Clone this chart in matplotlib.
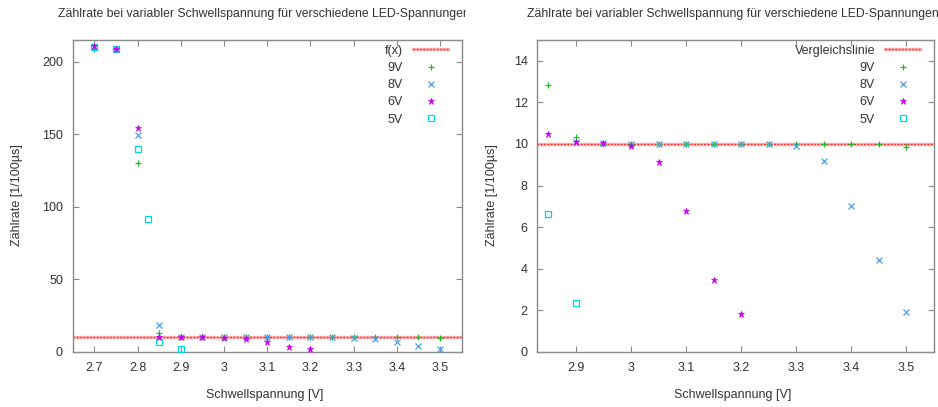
import matplotlib
matplotlib.use("Agg")
import matplotlib.pyplot as plt
from matplotlib.transforms import Bbox
from matplotlib.legend_handler import HandlerTuple

plt.rcParams['font.family'] = ['Liberation Sans', 'DejaVu Sans']

TITLE = 'Zählrate bei variabler Schwellspannung für verschiedene LED-Spannungen'
XLABEL = 'Schwellspannung [V]'
YLABEL = 'Zählrate [1/100µs]'

# measured count rates per LED voltage
v9_x = [2.7, 2.75, 2.8, 2.85, 2.9, 2.95, 3.0, 3.05, 3.1, 3.15, 3.2, 3.25, 3.3, 3.35, 3.4, 3.45, 3.5]
v9_y = [209, 209, 130, 12.85, 10.35, 10.0, 10.0, 10.0, 10.0, 10.0, 10.0, 10.0, 10.0, 10.0, 10.0, 10.0, 9.85]

v8_x = [2.7, 2.75, 2.8, 2.85, 2.9, 2.95, 3.0, 3.05, 3.1, 3.15, 3.2, 3.25, 3.3, 3.35, 3.4, 3.45, 3.5]
v8_y = [210, 209, 149.5, 18.4, 10.1, 10.05, 10.0, 10.0, 10.0, 10.0, 10.0, 10.0, 9.9, 9.2, 7.0, 4.4, 1.9]

v6_x = [2.7, 2.75, 2.8, 2.85, 2.9, 2.95, 3.0, 3.05, 3.1, 3.15, 3.2]
v6_y = [211, 209, 154.5, 10.5, 10.1, 10.05, 9.9, 9.15, 6.8, 3.45, 1.85]

v5_x = [2.7, 2.75, 2.8, 2.825, 2.85, 2.9]
v5_y = [210, 209, 140, 91.5, 6.65, 2.35]

ref_level = 10

left_xticks = [2.7, 2.8, 2.9, 3.0, 3.1, 3.2, 3.3, 3.4, 3.5]
left_xticklabels = ['2.7', '2.8', '2.9', '3', '3.1', '3.2', '3.3', '3.4', '3.5']
left_yticks = [0, 50, 100, 150, 200]
right_xticks = [2.9, 3.0, 3.1, 3.2, 3.3, 3.4, 3.5]
right_xticklabels = ['2.9', '3', '3.1', '3.2', '3.3', '3.4', '3.5']
right_yticks = [0, 2, 4, 6, 8, 10, 12, 14]

W, H = 938, 407
TXT = '#333333'
FRAME = '#8a8a8a'


def panel(rect, xlim, ylim, xticks, xticklabels, yticks, ref_label):
    ax = plt.gcf().add_axes([rect[0] / W, 1 - rect[3] / H,
                             (rect[2] - rect[0]) / W, (rect[3] - rect[1]) / H])
    band = ax.axhline(ref_level, color='#ffb4b4', lw=2.4, zorder=2)
    dots = ax.axhline(ref_level, color='#ff2020', lw=1.0, ls=(0, (1.2, 1.2)), zorder=2)
    ax.plot(v9_x, v9_y, ls='none', marker='+', color='#22b822', ms=5, mew=0.9, label='9V', zorder=3)
    ax.plot(v8_x, v8_y, ls='none', marker='x', color='#4aa0f0', ms=5, mew=0.9, label='8V', zorder=3)
    ax.plot(v6_x, v6_y, ls='none', marker='*', color='#c800f0', ms=5, mew=0.5, label='6V', zorder=4)
    ax.plot(v5_x, v5_y, ls='none', marker='s', color='#00d8e0', ms=4.5, mew=0.9,
            fillstyle='none', label='5V', zorder=3)
    ax.set_xlim(*xlim)
    ax.set_ylim(*ylim)
    ax.set_xticks(xticks)
    ax.set_xticklabels(xticklabels)
    ax.set_yticks(yticks)
    ax.tick_params(direction='in', top=True, right=True, length=4, width=0.8,
                   colors=FRAME, labelcolor=TXT, labelsize=9, pad=7)
    for s in ax.spines.values():
        s.set_color(FRAME)
        s.set_linewidth(1.0)
    handles, labels = ax.get_legend_handles_labels()
    handles = [(band, dots)] + handles
    labels = [ref_label] + labels
    leg = ax.legend(handles, labels, loc='upper right', bbox_to_anchor=(0.965, 0.985),
                    frameon=False, markerfirst=False, fontsize=9, handlelength=2.8,
                    handletextpad=0.8, labelspacing=0.42, borderpad=0, borderaxespad=0,
                    alignment='right', handler_map={tuple: HandlerTuple(ndivide=1, pad=0)})
    for t in leg.get_texts():
        t.set_color(TXT)
    return ax


fig = plt.figure(figsize=(W / 100, H / 100), dpi=100)

ax1 = panel((72.7, 40, 461.7, 352), (2.65, 3.55), (0, 215), left_xticks, left_xticklabels,
            left_yticks, 'f(x)')
ax2 = panel((537.3, 40, 934, 352), (2.83, 3.55), (0, 15), right_xticks, right_xticklabels,
            right_yticks, 'Vergleichslinie')

# titles, the left one is cut off by the neighbouring panel
t1 = fig.text(264 / W, 1 - 14 / H, TITLE, ha='center', va='center', fontsize=8.8, color=TXT)
t1.set_clip_box(Bbox.from_extents(0, 0, 466, H))
t1.set_clip_on(True)
fig.text(733 / W, 1 - 14 / H, TITLE, ha='center', va='center', fontsize=8.8, color=TXT)

for x, y in [(265, 395), (733, 395)]:
    fig.text(x / W, 1 - y / H, XLABEL, ha='center', va='center', fontsize=9, color=TXT)
for x, y in [(17, 195), (492, 195)]:
    fig.text(x / W, 1 - y / H, YLABEL, ha='center', va='center', rotation=90, fontsize=9,
             color=TXT)

fig.savefig('out.png', dpi=100)
